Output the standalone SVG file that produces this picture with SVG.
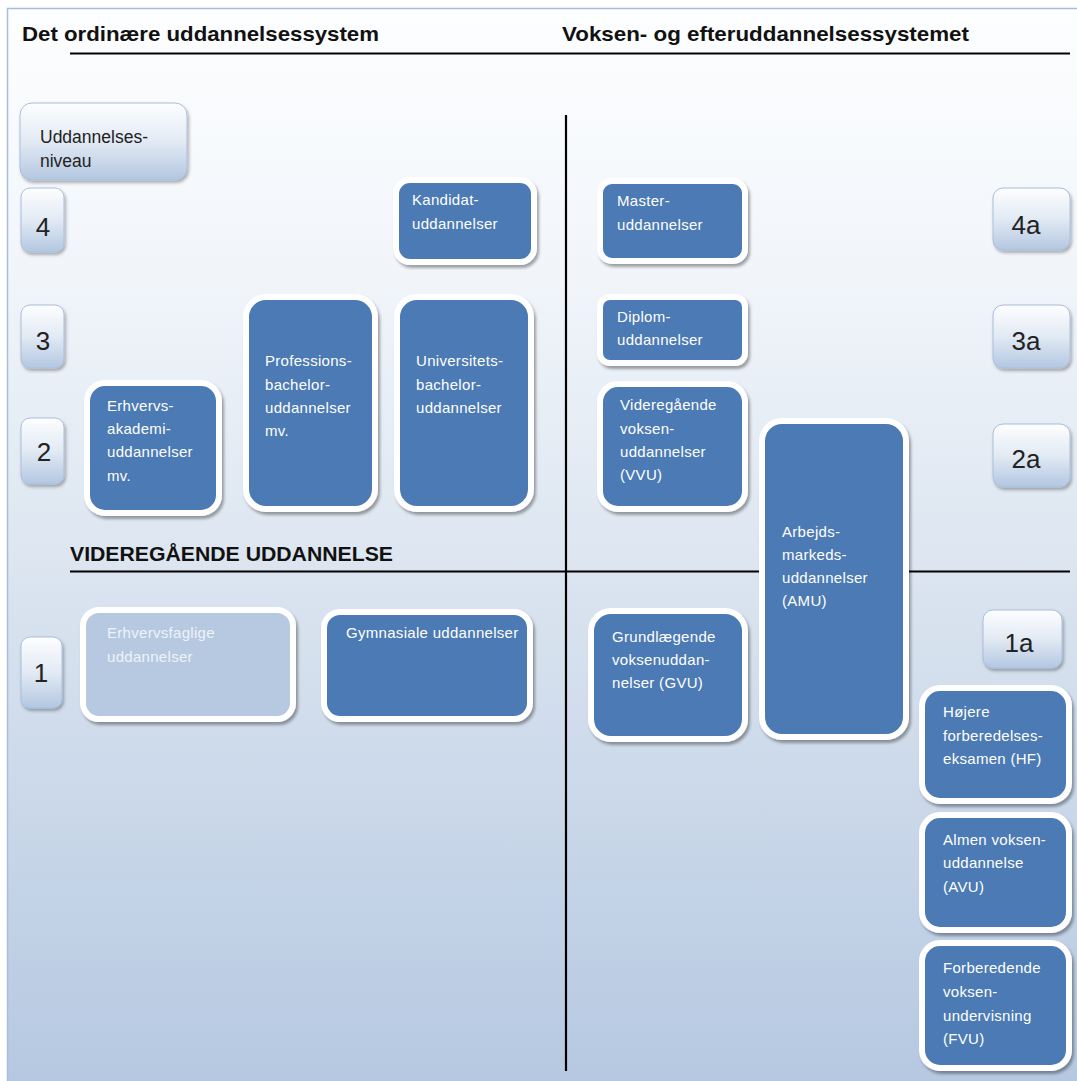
<svg xmlns="http://www.w3.org/2000/svg" width="1077" height="1081" viewBox="0 0 1077 1081">
  <defs>
    <linearGradient id="bg" x1="0" y1="0" x2="0" y2="1">
      <stop offset="0" stop-color="#fdfeff"/>
      <stop offset="0.25" stop-color="#f1f5fa"/>
      <stop offset="0.55" stop-color="#d9e3ef"/>
      <stop offset="1" stop-color="#b5c8e1"/>
    </linearGradient>
    <linearGradient id="lvl" x1="0" y1="0" x2="0" y2="1">
      <stop offset="0" stop-color="#fdfeff"/>
      <stop offset="0.5" stop-color="#e2eaf4"/>
      <stop offset="1" stop-color="#b3c7e1"/>
    </linearGradient>
    <filter id="sh" x="-20%" y="-20%" width="140%" height="140%">
      <feDropShadow dx="2" dy="3" stdDeviation="1.8" flood-color="#000" flood-opacity="0.35"/>
    </filter>
    <filter id="shl" x="-20%" y="-20%" width="140%" height="140%">
      <feDropShadow dx="1.5" dy="2.5" stdDeviation="1.5" flood-color="#000" flood-opacity="0.3"/>
    </filter>
  </defs>
  <style>
    .box { fill: #4b7ab4; stroke: #ffffff; stroke-width: 6; filter: url(#sh); }
    .boxl { fill: #b6c9e1; stroke: #ffffff; stroke-width: 6; filter: url(#sh); }
    .lvl { fill: url(#lvl); stroke: #a9bedb; stroke-width: 1; filter: url(#shl); }
    .bt { font-family: "Liberation Sans", Arial, sans-serif; font-size: 15px; fill: #ffffff; letter-spacing: 0.3px; }
    .btl { font-family: "Liberation Sans", Arial, sans-serif; font-size: 15px; fill: #eef3f9; letter-spacing: 0.3px; }
    .num { font-family: "Liberation Sans", Arial, sans-serif; font-size: 26px; fill: #222222; }
    .lt { font-family: "Liberation Sans", Arial, sans-serif; font-size: 17.5px; fill: #222222; }
    .title { font-family: "Liberation Sans", Arial, sans-serif; font-size: 21px; font-weight: bold; fill: #111111; }
    .rule { stroke: #000000; stroke-width: 2.2; fill: none; }
  </style>

  <rect x="0" y="0" width="1077" height="1081" fill="#ffffff"/>
  <rect x="7.5" y="8.5" width="1075" height="1080" fill="url(#bg)" stroke="#a7bddb" stroke-width="1.5"/>

  <!-- headings and rules -->
  <g id="headings">
    <text class="title" x="22" y="41" textLength="357" lengthAdjust="spacingAndGlyphs">Det ordinære uddannelsessystem</text>
    <text class="title" x="562" y="41" textLength="407" lengthAdjust="spacingAndGlyphs">Voksen- og efteruddannelsessystemet</text>
    <text class="title" x="70" y="561" textLength="323" lengthAdjust="spacingAndGlyphs">VIDEREGÅENDE UDDANNELSE</text>
  </g>

  <g id="connectors">
    <line class="rule" x1="70" y1="53.5" x2="1070" y2="53.5"/>
    <line class="rule" x1="566" y1="115" x2="566" y2="1071"/>
    <line class="rule" x1="70" y1="571.5" x2="1070" y2="571.5"/>
  </g>

  <!-- level boxes -->
  <g id="level-header">
    <rect class="lvl" x="20" y="103" width="167" height="77" rx="12"/>
    <text class="lt" x="40" y="143">Uddannelses-</text>
    <text class="lt" x="40" y="167">niveau</text>
  </g>
  <g id="level-4">
    <rect class="lvl" x="21" y="188" width="43" height="64" rx="9"/>
    <text class="num" x="43" y="236" text-anchor="middle">4</text>
  </g>
  <g id="level-3">
    <rect class="lvl" x="21" y="305" width="43" height="63" rx="9"/>
    <text class="num" x="43" y="350" text-anchor="middle">3</text>
  </g>
  <g id="level-2">
    <rect class="lvl" x="21" y="418" width="43" height="66" rx="9"/>
    <text class="num" x="44" y="461" text-anchor="middle">2</text>
  </g>
  <g id="level-1">
    <rect class="lvl" x="21" y="637" width="41" height="71" rx="9"/>
    <text class="num" x="41" y="682" text-anchor="middle">1</text>
  </g>
  <g id="level-4a">
    <rect class="lvl" x="993" y="188" width="77" height="62" rx="10"/>
    <text class="num" x="1026" y="234" text-anchor="middle">4a</text>
  </g>
  <g id="level-3a">
    <rect class="lvl" x="993" y="305" width="77" height="63" rx="10"/>
    <text class="num" x="1026" y="350" text-anchor="middle">3a</text>
  </g>
  <g id="level-2a">
    <rect class="lvl" x="993" y="424" width="77" height="63" rx="10"/>
    <text class="num" x="1026" y="468" text-anchor="middle">2a</text>
  </g>
  <g id="level-1a">
    <rect class="lvl" x="983" y="610" width="79" height="58" rx="10"/>
    <text class="num" x="1019" y="652" text-anchor="middle">1a</text>
  </g>

  <!-- education boxes -->
  <g id="kandidat">
    <rect class="box" x="396" y="180" width="138" height="82" rx="14"/>
    <text class="bt" x="412" y="205">Kandidat-</text>
    <text class="bt" x="412" y="229">uddannelser</text>
  </g>
  <g id="professionsbachelor">
    <rect class="box" x="246" y="297" width="129" height="212" rx="20"/>
    <text class="bt" x="265" y="366">Professions-</text>
    <text class="bt" x="265" y="390">bachelor-</text>
    <text class="bt" x="265" y="413">uddannelser</text>
    <text class="bt" x="265" y="436">mv.</text>
  </g>
  <g id="universitetsbachelor">
    <rect class="box" x="397" y="297" width="134" height="212" rx="20"/>
    <text class="bt" x="416" y="366">Universitets-</text>
    <text class="bt" x="416" y="390">bachelor-</text>
    <text class="bt" x="416" y="413">uddannelser</text>
  </g>
  <g id="erhvervsakademi">
    <rect class="box" x="87" y="383" width="132" height="130" rx="18"/>
    <text class="bt" x="107" y="411">Erhvervs-</text>
    <text class="bt" x="107" y="434">akademi-</text>
    <text class="bt" x="107" y="457">uddannelser</text>
    <text class="bt" x="107" y="481">mv.</text>
  </g>
  <g id="master">
    <rect class="box" x="600" y="181" width="145" height="80" rx="12"/>
    <text class="bt" x="617" y="206">Master-</text>
    <text class="bt" x="617" y="230">uddannelser</text>
  </g>
  <g id="diplom">
    <rect class="box" x="600" y="297" width="145" height="66" rx="10"/>
    <text class="bt" x="617" y="322">Diplom-</text>
    <text class="bt" x="617" y="345">uddannelser</text>
  </g>
  <g id="vvu">
    <rect class="box" x="600" y="384" width="145" height="125" rx="18"/>
    <text class="bt" x="620" y="410">Videregående</text>
    <text class="bt" x="620" y="434">voksen-</text>
    <text class="bt" x="620" y="457">uddannelser</text>
    <text class="bt" x="620" y="480">(VVU)</text>
  </g>
  <g id="amu">
    <rect class="box" x="762" y="421" width="144" height="316" rx="20"/>
    <text class="bt" x="782" y="537">Arbejds-</text>
    <text class="bt" x="782" y="560">markeds-</text>
    <text class="bt" x="782" y="583">uddannelser</text>
    <text class="bt" x="782" y="606">(AMU)</text>
  </g>
  <g id="erhvervsfaglige">
    <rect class="boxl" x="83" y="610" width="210" height="109" rx="16"/>
    <text class="btl" x="107" y="638">Erhvervsfaglige</text>
    <text class="btl" x="107" y="662">uddannelser</text>
  </g>
  <g id="gymnasiale">
    <rect class="box" x="324" y="612" width="206" height="107" rx="16"/>
    <text class="bt" x="346" y="638" letter-spacing="0">Gymnasiale uddannelser</text>
  </g>
  <g id="gvu">
    <rect class="box" x="591" y="611" width="154" height="128" rx="20"/>
    <text class="bt" x="612" y="642">Grundlægende</text>
    <text class="bt" x="612" y="665">voksenuddan-</text>
    <text class="bt" x="612" y="688">nelser (GVU)</text>
  </g>
  <g id="hf">
    <rect class="box" x="922" y="688" width="147" height="113" rx="18"/>
    <text class="bt" x="943" y="717">Højere</text>
    <text class="bt" x="943" y="741">forberedelses-</text>
    <text class="bt" x="943" y="764">eksamen (HF)</text>
  </g>
  <g id="avu">
    <rect class="box" x="922" y="815" width="147" height="115" rx="18"/>
    <text class="bt" x="943" y="845">Almen voksen-</text>
    <text class="bt" x="943" y="868">uddannelse</text>
    <text class="bt" x="943" y="892">(AVU)</text>
  </g>
  <g id="fvu">
    <rect class="box" x="922" y="943" width="147" height="125" rx="18"/>
    <text class="bt" x="943" y="973">Forberedende</text>
    <text class="bt" x="943" y="997">voksen-</text>
    <text class="bt" x="943" y="1021">undervisning</text>
    <text class="bt" x="943" y="1044">(FVU)</text>
  </g>
</svg>
